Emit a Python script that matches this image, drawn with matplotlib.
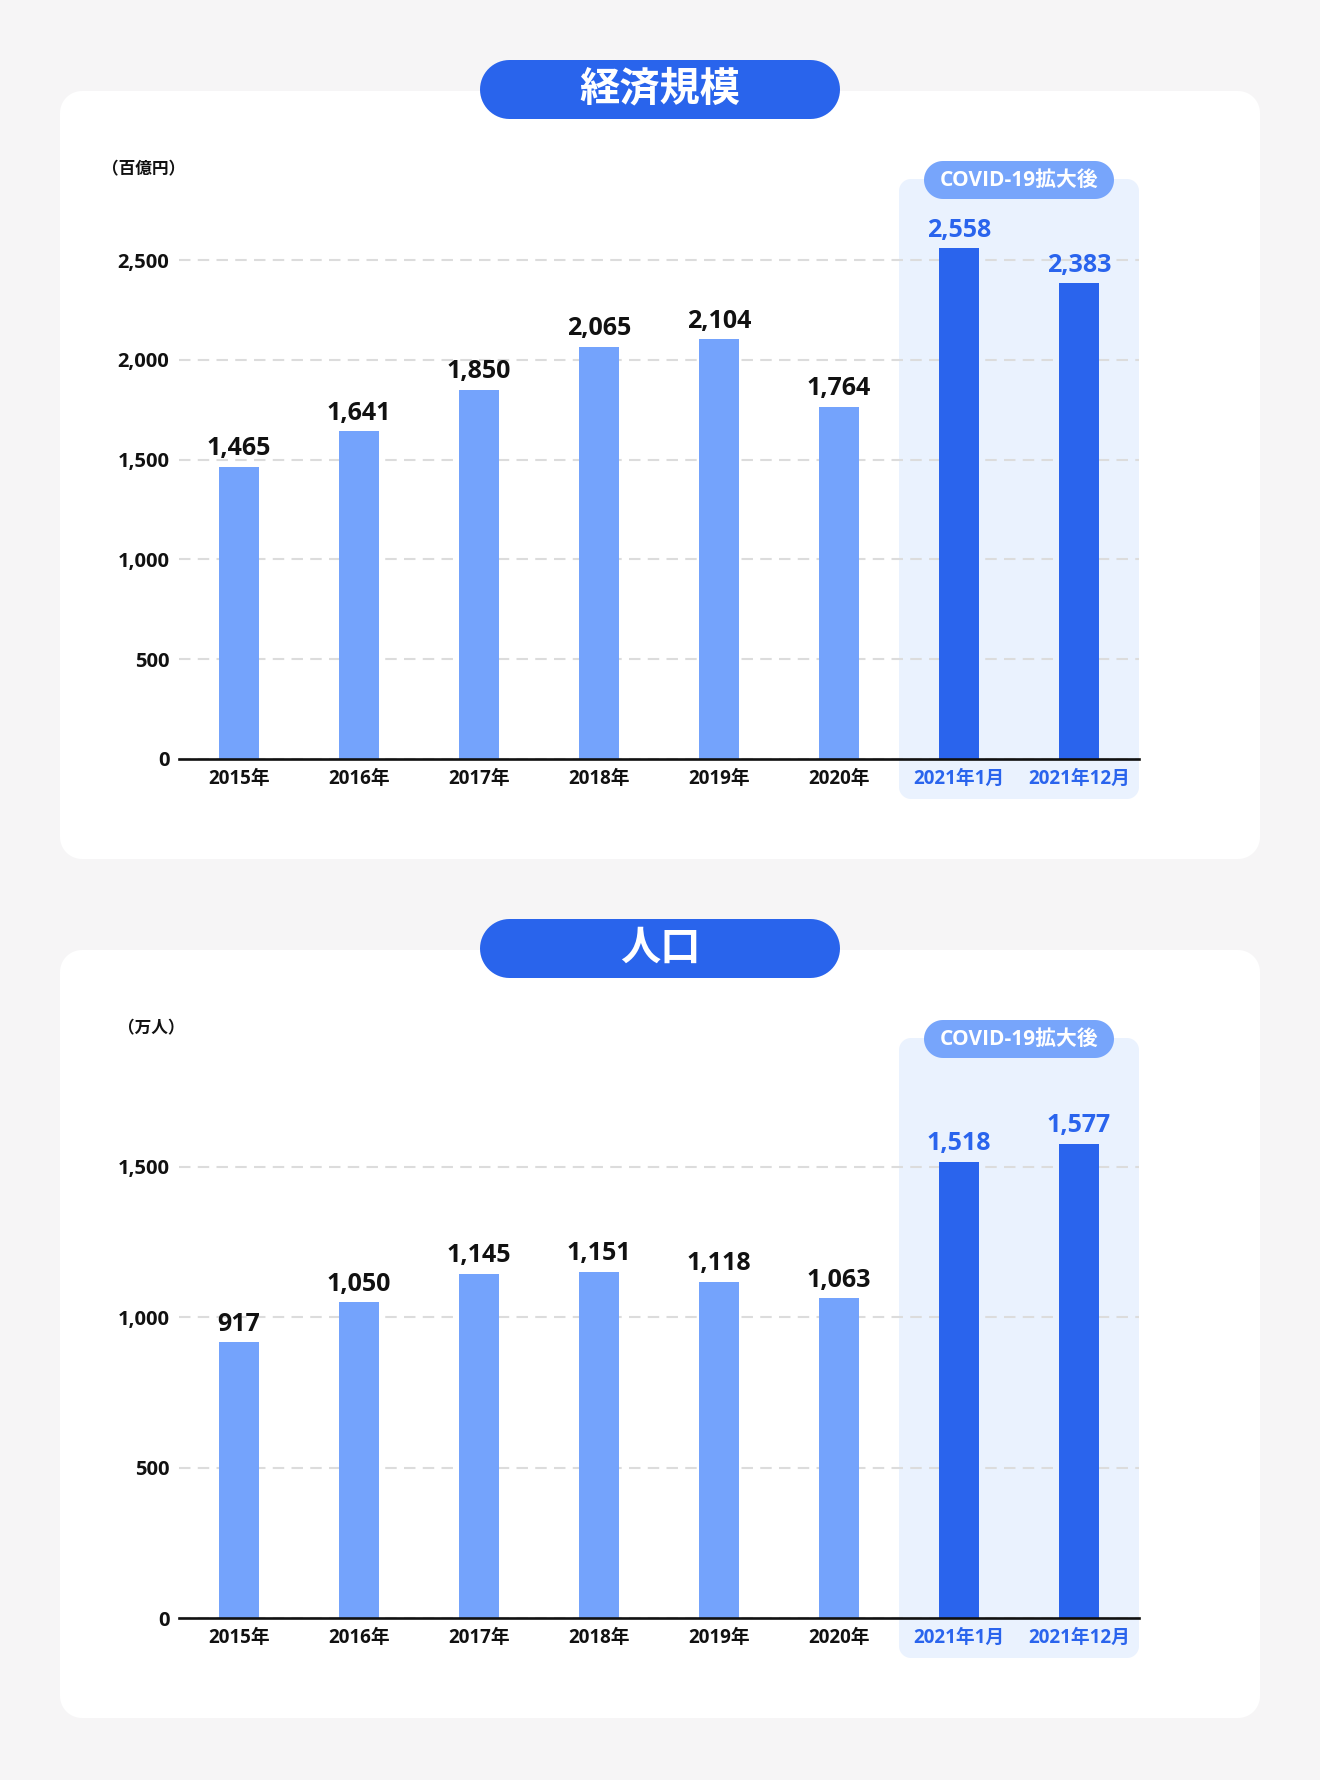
import matplotlib.pyplot as plt
import numpy as np
from matplotlib.patches import Polygon
from matplotlib.transforms import IdentityTransform

# data
categories = ['2015年', '2016年', '2017年', '2018年', '2019年', '2020年', '2021年1月', '2021年12月']
economy = [1465, 1641, 1850, 2065, 2104, 1764, 2558, 2383]
population = [917, 1050, 1145, 1151, 1118, 1063, 1518, 1577]
highlight = [False, False, False, False, False, False, True, True]

W, H = 1320, 1780
BG = '#f6f5f6'
TITLE_BLUE = '#2964ec'
LIGHT = '#74a3fc'
DARK = '#2a64ed'
BOX = '#eaf2fe'
PILL = '#77a5fb'
INK = '#111111'

plt.rcParams['font.family'] = ['Open Sans', 'Noto Sans CJK JP', 'DejaVu Sans']
plt.rcParams['font.weight'] = 'bold'

fig = plt.figure(figsize=(W / 100, H / 100), dpi=100, facecolor=BG)
px = IdentityTransform()


def rbox(x0, y0, x1, y1, r, color, z):
    # rounded rect in pixel coords, top-left origin, with circular corners
    r = min(r, (x1 - x0) / 2, (y1 - y0) / 2)
    yb, yt = H - y1, H - y0
    t = np.linspace(0, np.pi / 2, 16)
    pts = []
    for cx, cy, a0 in [(x1 - r, yt - r, 0), (x0 + r, yt - r, np.pi / 2),
                       (x0 + r, yb + r, np.pi), (x1 - r, yb + r, 1.5 * np.pi)]:
        pts += list(zip(cx + r * np.cos(t + a0), cy + r * np.sin(t + a0)))
    fig.add_artist(Polygon(pts, closed=True, transform=px, fc=color, ec='none', zorder=z))


def panel(top, title, unit, values, yticks, ytop):
    card_top = top + 31
    rbox(60, card_top, 1260, card_top + 768, 22, 'white', -3)
    rbox(480, top, 840, top + 59, 29.5, TITLE_BLUE, 1)
    fig.text(660 / W, 1 - (top + 30) / H, title, ha='center', va='center',
             color='white', fontsize=29, fontweight='bold', zorder=2)

    ax_top = card_top + 88
    ax_bot = ax_top + 580
    ax = fig.add_axes([179 / W, 1 - ax_bot / H, 960 / W, 580 / H])
    ax.patch.set_alpha(0)
    x = np.arange(len(categories))
    colors = [DARK if h else LIGHT for h in highlight]
    ax.bar(x, values, width=0.34, color=colors, zorder=3)
    ax.set_xlim(-0.5, len(categories) - 0.5)
    ax.set_ylim(0, ytop)
    ax.set_yticks(yticks)
    ax.set_yticklabels([f'{v:,}' for v in yticks], fontsize=14.5, fontweight='bold', color=INK)
    ax.set_xticks(x)
    ax.set_xticklabels(categories, fontsize=13.5, fontweight='bold')
    for lab, h in zip(ax.get_xticklabels(), highlight):
        lab.set_color(DARK if h else INK)
    ax.tick_params(length=0)
    ax.tick_params(axis='y', pad=7)
    ax.tick_params(axis='x', pad=7)
    for s in ['top', 'right', 'left']:
        ax.spines[s].set_visible(False)
    ax.spines['bottom'].set_linewidth(1.9)
    ax.spines['bottom'].set_color(INK)
    ax.spines['bottom'].set_zorder(4)
    ax.yaxis.grid(True, color='#dcdcdc', linewidth=1.5, linestyle=(0, (5.5, 3.5)), zorder=1)
    ax.set_axisbelow(True)
    for xi, v, h in zip(x, values, highlight):
        ax.annotate(f'{v:,}', (xi, v), xytext=(0, 4), textcoords='offset points',
                    ha='center', va='bottom', fontsize=18, fontweight='bold',
                    color=DARK if h else INK, zorder=5)

    # highlight region from data positions
    first = highlight.index(True)
    bx0 = ax.transData.transform((first - 0.5, 0))[0]
    bx1 = ax.transData.transform((len(categories) - 0.5, 0))[0]
    rbox(bx0, ax_top, bx1, ax_bot + 40, 12, BOX, -2)
    cx = ax.transData.transform(((first + len(categories) - 1) / 2, 0))[0]
    rbox(cx - 95, ax_top - 18, cx + 95, ax_top + 20, 19, PILL, 2)
    fig.text(cx / W, 1 - (ax_top + 1) / H, 'COVID-19拡大後', ha='center', va='center',
             color='white', fontsize=15, fontweight='bold', zorder=3)

    fig.text(185 / W, 1 - (ax_top - 10) / H, unit, ha='right', va='center',
             color=INK, fontsize=12, fontweight='bold')
    return ax


panel(60, '経済規模', '（百億円）', economy, [0, 500, 1000, 1500, 2000, 2500], 2906)
panel(919, '人口', '（万人）', population, [0, 500, 1000, 1500], 1929)

fig.savefig('out.png', dpi=100, facecolor=BG)
